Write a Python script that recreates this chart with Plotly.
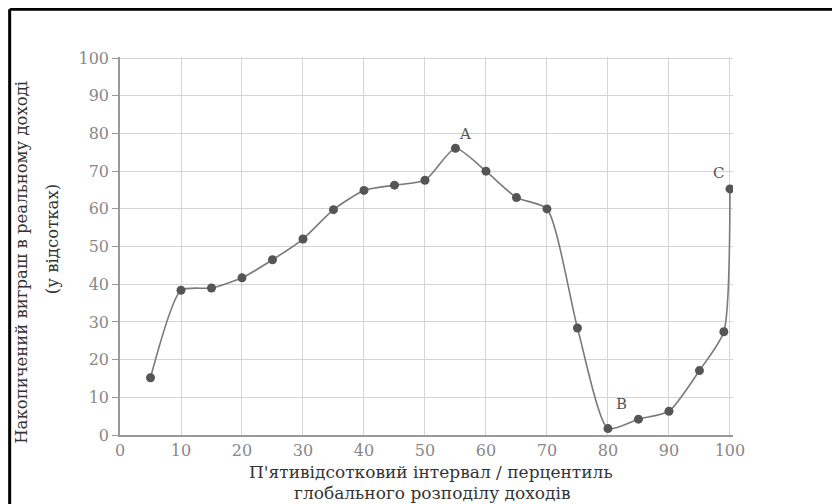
import plotly.graph_objects as go

# ------------------------------------------------
# data
# ------------------------------------------------
percentiles = [5, 10, 15, 20, 25, 30, 35, 40, 45, 50, 55, 60, 65, 70, 75, 80, 85, 90, 95, 99, 100]
gains = [15.2, 38.4, 39.0, 41.7, 46.5, 52.0, 59.8, 64.9, 66.3, 67.6, 76.1, 70.0, 63.0, 60.0, 28.4, 1.7, 4.2, 6.3, 17.1, 27.4, 65.3]

point_labels = ["A", "B", "C"]
label_x = [56.6, 82.2, 98.2]
label_y = [80.0, 8.3, 69.4]

x_ticks = [0, 10, 20, 30, 40, 50, 60, 70, 80, 90, 100]
y_ticks = [0, 10, 20, 30, 40, 50, 60, 70, 80, 90, 100]

x_title = ["П'ятивідсотковий інтервал / перцентиль", "глобального розподілу доходів"]
y_title = ["Накопичений виграш в реальному доході", "(у відсотках)"]

FONT = "DejaVu Serif"
X_TITLE_FONT = dict(family=FONT, size=17, color="#333333")
Y_TITLE_FONT = dict(family=FONT, size=16.5, color="#333333")

fig = go.Figure()

fig.add_trace(go.Scatter(
    x=percentiles,
    y=gains,
    mode="lines+markers",
    line=dict(color="#7a7a7a", width=1.6, shape="spline", smoothing=0.6),
    marker=dict(color="#555555", size=9),
    showlegend=False,
))

# point labels A, B, C
for t, lx, ly in zip(point_labels, label_x, label_y):
    fig.add_annotation(
        x=lx, y=ly, text=t, showarrow=False,
        font=dict(family=FONT, size=15, color="#555555"),
    )

# x axis title, two lines
fig.add_annotation(xref="paper", yref="paper", x=0.507, y=-0.098,
                   xanchor="center", yanchor="middle",
                   text=x_title[0], showarrow=False, font=X_TITLE_FONT)
fig.add_annotation(xref="paper", yref="paper", x=0.509, y=-0.153,
                   xanchor="center", yanchor="middle",
                   text=x_title[1], showarrow=False, font=X_TITLE_FONT)

# y axis title, two lines
fig.add_annotation(xref="paper", yref="paper", x=-0.160, y=0.458,
                   xanchor="center", yanchor="middle",
                   text=y_title[0], showarrow=False, textangle=-90, font=Y_TITLE_FONT)
fig.add_annotation(xref="paper", yref="paper", x=-0.111, y=0.518,
                   xanchor="center", yanchor="middle",
                   text=y_title[1], showarrow=False, textangle=-90, font=Y_TITLE_FONT)

# black frame on left and top
fig.add_shape(type="line", xref="paper", yref="paper",
              x0=-0.180, x1=-0.180, y0=-0.2, y1=1.126,
              line=dict(color="black", width=3))
fig.add_shape(type="line", xref="paper", yref="paper",
              x0=-0.180, x1=1.2, y0=1.126, y1=1.126,
              line=dict(color="black", width=3))

fig.update_xaxes(
    range=[0, 100.5],
    tickvals=x_ticks,
    showgrid=True, gridcolor="#d4d4d4", gridwidth=1,
    showline=True, linecolor="#999999", linewidth=1.5,
    zeroline=False,
    ticks="",
    tickfont=dict(family=FONT, size=16, color="#888888"),
)

fig.update_yaxes(
    range=[0, 100.3],
    tickvals=y_ticks,
    showgrid=True, gridcolor="#d4d4d4", gridwidth=1,
    showline=True, linecolor="#999999", linewidth=1.5,
    zeroline=False,
    ticks="outside", ticklen=6, tickcolor="#999999",
    tickfont=dict(family=FONT, size=16, color="#888888"),
)

fig.update_layout(
    width=824,
    height=496,
    margin=dict(l=112, r=99, t=49, b=69),
    plot_bgcolor="white",
    paper_bgcolor="white",
)

fig.write_html("out.html")
